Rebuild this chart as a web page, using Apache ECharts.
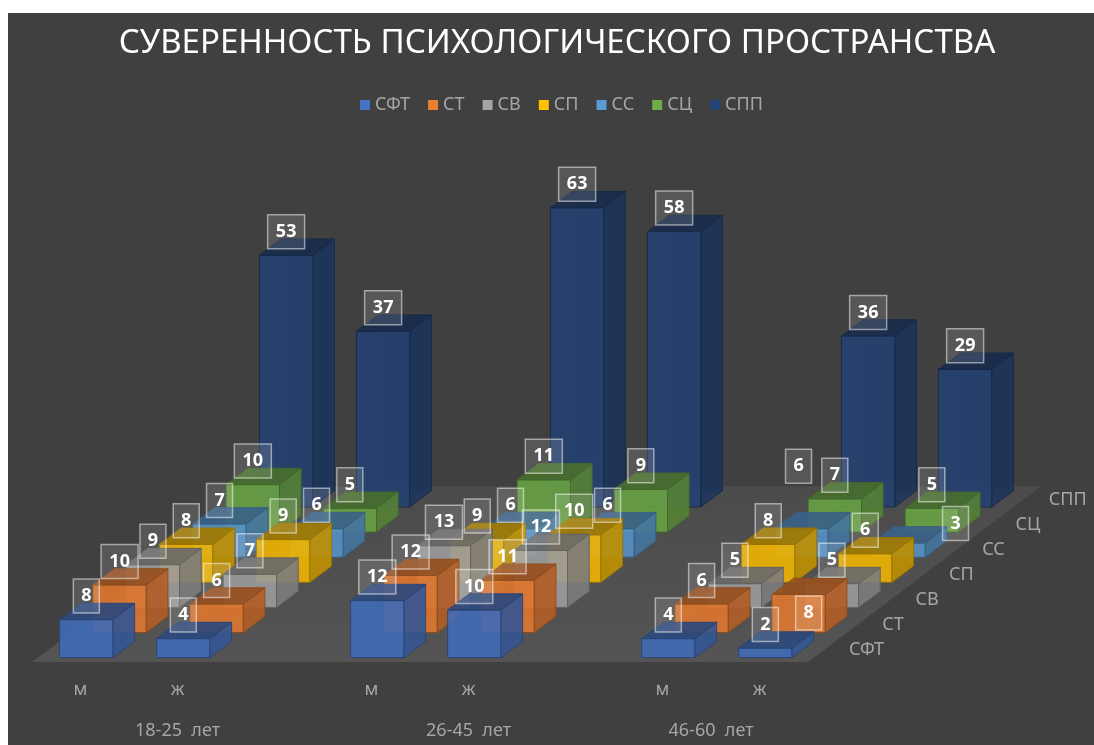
<!DOCTYPE html>
<html><head><meta charset="utf-8">
<style>html,body{margin:0;padding:0;background:#fff}#c{width:1094px;height:745px}</style>
<script src="https://cdn.jsdelivr.net/npm/echarts@6/dist/echarts.min.js"></script>
</head><body><div id="c"></div>
<script>
const titleText = 'СУВЕРЕННОСТЬ ПСИХОЛОГИЧЕСКОГО ПРОСТРАНСТВА';
const slotLabels = ['м', 'ж', '', 'м', 'ж', '', 'м', 'ж'];
const ageGroups = ['18-25  лет', '26-45  лет', '46-60  лет'];
const ageGroupPositions = [1.5, 4.5, 7];
const rowNames = ['СФТ', 'СТ', 'СВ', 'СП', 'СС', 'СЦ', 'СПП'];
const sft = [8, 4, null, 12, 10, null, 4, 2];
const st  = [10, 6, null, 12, 11, null, 6, 8];
const sv  = [9, 7, null, 13, 12, null, 5, 5];
const sp  = [8, 9, null, 9, 10, null, 8, 6];
const ss  = [7, 6, null, 6, 6, null, 6, 3];
const sc  = [10, 5, null, 11, 9, null, 7, 5];
const spp = [53, 37, null, 63, 58, null, 36, 29];
const rowValues = [sft, st, sv, sp, ss, sc, spp];
const rowColors = ['#4472C4', '#ED7D31', '#A5A5A5', '#FFC000', '#5B9BD5', '#70AD47', '#264478'];
// Data labels that were dragged by hand in the original: "row,slot" -> label shift
const labelShift = { '4,6': [-3, -39], '1,7': [10, 42], '4,7': [57, 4] };

// Oblique projection of the depth axis, in pixels per row
const stepX = 33.3, stepY = 25.1, barDepth = 0.65, barWidthRatio = 0.55;

function shade(hex, f, a) {
  const n = parseInt(hex.slice(1), 16);
  return `rgba(${Math.round((n >> 16 & 255) * f)},${Math.round((n >> 8 & 255) * f)},${Math.round((n & 255) * f)},${a})`;
}
function poly(points, fill, stroke, z2) {
  return { type: 'polygon', z2, shape: { points },
    style: { fill, stroke, lineWidth: 1 }, silent: true };
}
function barRenderer(row) {
  return function (params, api) {
    const slot = api.value(0), val = api.value(1);
    if (isNaN(val)) return null;
    const base = api.coord([slot, 0]), top = api.coord([slot, val]);
    const bw = api.size([1, 0])[0] * barWidthRatio;
    const d = row + (1 - barDepth) / 2;
    const x0 = base[0] - bw / 2 + d * stepX, x1 = x0 + bw;
    const yb = base[1] - d * stepY, yt = top[1] - d * stepY;
    const ox = barDepth * stepX, oy = barDepth * stepY;
    const c = rowColors[row], z = (6 - row) * 10 + 10;
    const edge = shade(c, 0.6, 0.9);
    const cx = (x0 + x1) / 2;
    const label = String(val);
    const w = label.length > 1 ? 37 : 26, h = 34;
    const sh = labelShift[row + ',' + slot] || [0, 0];
    const lx = cx + sh[0], ly = yt - 23.5 + sh[1];
    return { type: 'group', children: [
      poly([[x0 + ox, yb - oy], [x1 + ox, yb - oy], [x1 + ox, yt - oy], [x0 + ox, yt - oy]], shade(c, 0.5, 0.25), null, z),
      poly([[x0, yb], [x1, yb], [x1, yt], [x0, yt]], shade(c, 0.95, 0.88), edge, z + 1),
      poly([[x1, yb], [x1 + ox, yb - oy], [x1 + ox, yt - oy], [x1, yt]], shade(c, 0.76, 0.88), edge, z + 2),
      poly([[x0, yt], [x1, yt], [x1 + ox, yt - oy], [x0 + ox, yt - oy]], shade(c, 0.64, 0.9), edge, z + 3),
      { type: 'rect', z2: 1000, silent: true,
        shape: { x: lx - w / 2, y: ly - h / 2, width: w, height: h },
        style: { fill: 'rgba(255,255,255,0.12)', stroke: 'rgba(255,255,255,0.5)', lineWidth: 1.5 } },
      { type: 'text', z2: 1001, silent: true, x: lx, y: ly,
        style: { text: label, fill: '#fff', align: 'center', verticalAlign: 'middle',
          font: 'bold 18px "Noto Sans"' } }
    ] };
  };
}
const barSeries = rowNames.map((name, row) => ({
  name, type: 'custom', coordinateSystem: 'cartesian2d', clip: false,
  itemStyle: { color: rowColors[row] },
  encode: { x: 0, y: 1 },
  renderItem: barRenderer(row),
  data: rowValues[row].map((v, i) => [i, v])
}));
const floorSeries = {
  name: 'floor', type: 'custom', coordinateSystem: 'cartesian2d', silent: true, z: 1,
  encode: { x: 0, y: 1 }, data: [[0, 0]],
  renderItem(params) {
    const g = params.coordSys, n = rowNames.length;
    const x0 = g.x, x1 = g.x + g.width, y = g.y + g.height;
    return { type: 'polygon', z2: 0, silent: true,
      shape: { points: [[x0, y], [x1, y], [x1 + n * stepX, y - n * stepY], [x0 + n * stepX, y - n * stepY]] },
      style: { fill: { type: 'linear', x: 0, y: 1, x2: 0, y2: 0, colorStops: [
        { offset: 0, color: 'rgba(255,255,255,0.105)' }, { offset: 1, color: 'rgba(255,255,255,0.06)' }] } } };
  }
};
const rowLabelSeries = {
  name: 'rows', type: 'custom', coordinateSystem: 'cartesian2d', silent: true, z: 1,
  encode: { x: 0, y: 1 }, data: rowNames.map((n, i) => [7, i]),
  renderItem(params) {
    const g = params.coordSys, i = params.dataIndex;
    return { type: 'text', silent: true,
      x: g.x + g.width + 41 + i * stepX, y: g.y + g.height - 12 - i * stepY,
      style: { text: rowNames[i], fill: '#a6a6a6', align: 'left', verticalAlign: 'middle',
        font: '18px "Noto Sans"' } };
  }
};
const chart = echarts.init(document.getElementById('c'), null, { renderer: 'canvas' });
chart.setOption({
  backgroundColor: '#ffffff',
  animation: false,
  graphic: [{ type: 'rect', z: -10, silent: true, shape: { x: 8, y: 13, width: 1086, height: 732 }, style: { fill: '#404040' } }],
  title: { text: titleText, left: 552, top: 22, textAlign: 'center',
    textStyle: { color: '#fff', fontWeight: 'normal', fontFamily: 'Noto Sans', fontSize: 33 } },
  legend: { data: rowNames, top: 91, left: 355, icon: 'rect', itemWidth: 10, itemHeight: 10, itemGap: 18,
    textStyle: { color: '#a6a6a6', fontFamily: 'Noto Sans', fontSize: 18 } },
  grid: { left: 32, width: 776, top: 187, height: 475, containLabel: false },
  xAxis: [
    { type: 'category', data: slotLabels, axisLine: { show: false }, axisTick: { show: false },
      axisLabel: { color: '#a6a6a6', fontFamily: 'Noto Sans', fontSize: 18, margin: 19, interval: 0 } },
    { type: 'value', position: 'bottom', offset: 41, min: 0, max: 8, splitLine: { show: false },
      axisLine: { show: false }, axisTick: { show: false },
      axisLabel: { color: '#a6a6a6', fontFamily: 'Noto Sans', fontSize: 18, margin: 19,
        customValues: ageGroupPositions,
        formatter: v => ageGroups[ageGroupPositions.indexOf(v)] || '' } }
  ],
  yAxis: { type: 'value', min: 0, max: 100, show: false },
  series: [floorSeries, rowLabelSeries].concat(barSeries)
});
</script></body></html>
